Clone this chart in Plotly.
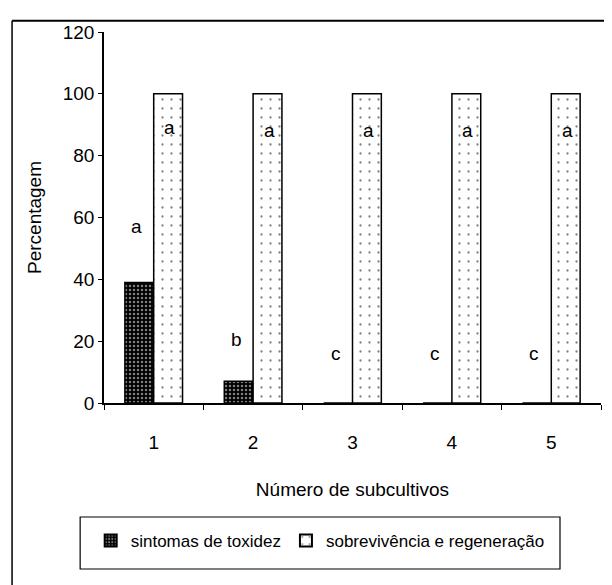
import plotly.graph_objects as go

categories = ["1", "2", "3", "4", "5"]
toxidez = [39, 7, 0, 0, 0]
sobrevivencia = [100, 100, 100, 100, 100]
letters_tox = ["a", "b", "c", "c", "c"]
letters_tox_y = [57, 20.5, 16, 16, 16]
letters_sob = ["a", "a", "a", "a", "a"]
letters_sob_y = [89, 88, 88, 88, 88]
yticks = [0, 20, 40, 60, 80, 100, 120]

FONT = "Arial, Liberation Sans, sans-serif"
FS = 19

fig = go.Figure()
fig.add_trace(go.Bar(
    x=categories, y=toxidez, name="sintomas de toxidez",
    marker=dict(color="black", line=dict(color="black", width=1.5),
                pattern=dict(shape=".", fgcolor="white", bgcolor="black", size=4, solidity=0.3)),
))
fig.add_trace(go.Bar(
    x=categories, y=sobrevivencia, name="sobrevivência e regeneração",
    marker=dict(color="white", line=dict(color="black", width=1.5),
                pattern=dict(shape=".", fgcolor="black", bgcolor="white", size=9, solidity=0.05)),
))

for i, (t, ty) in enumerate(zip(letters_tox, letters_tox_y)):
    fig.add_annotation(x=i - 0.17, y=ty, xref="x", yref="y", text=t, showarrow=False,
                       font=dict(size=FS, color="black", family=FONT))
for i, (t, ty) in enumerate(zip(letters_sob, letters_sob_y)):
    fig.add_annotation(x=i + 0.16, y=ty, xref="x", yref="y", text=t, showarrow=False,
                       font=dict(size=FS, color="black", family=FONT))

# outer frame (top and left edges)
fig.add_shape(type="line", xref="paper", yref="paper",
              x0=-0.185, x1=1.1, y0=1.03, y1=1.03,
              line=dict(color="black", width=2), layer="above")
fig.add_shape(type="line", xref="paper", yref="paper",
              x0=-0.185, x1=-0.185, y0=-0.7, y1=1.03,
              line=dict(color="black", width=1.5), layer="above")
# legend box
fig.add_shape(type="rect", xref="paper", yref="paper",
              x0=-0.048, x1=0.9175, y0=-0.4474, y1=-0.3073,
              line=dict(color="black", width=1.2), fillcolor="rgba(0,0,0,0)", layer="above")

fig.update_layout(
    width=612, height=585,
    margin=dict(l=96, r=19, t=24, b=190),
    paper_bgcolor="white", plot_bgcolor="white",
    barmode="group", bargap=0.42, bargroupgap=0,
    font=dict(family=FONT, size=FS, color="black"),
    showlegend=True,
    legend=dict(orientation="h", x=0.435, xanchor="center", y=-0.372, yanchor="middle",
                borderwidth=0, bgcolor="rgba(0,0,0,0)",
                font=dict(size=17, family=FONT), itemsizing="constant",
                itemwidth=30, tracegroupgap=0),
    xaxis=dict(
        type="category", range=[-0.5, 4.5],
        showline=True, linecolor="black", linewidth=2,
        ticks="outside", tickson="boundaries", ticklen=5, tickcolor="black",
        showgrid=False, zeroline=False,
        ticklabelstandoff=21,
        title=dict(text="Número de subcultivos", standoff=31, font=dict(size=FS)),
    ),
    yaxis=dict(
        range=[0, 120], tickvals=yticks,
        showline=True, linecolor="black", linewidth=1.5,
        ticks="outside", ticklen=4, tickcolor="black",
        showgrid=False, zeroline=False,
        title=dict(text="Percentagem", standoff=16, font=dict(size=FS)),
    ),
)

fig.write_html("out.html", config={"displayModeBar": False})
